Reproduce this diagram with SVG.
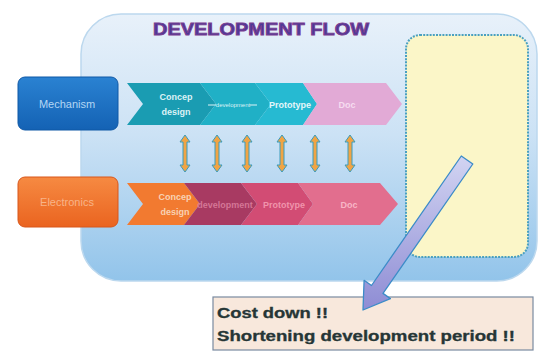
<svg xmlns="http://www.w3.org/2000/svg" width="546" height="351" viewBox="0 0 546 351">
  <defs>
    <linearGradient id="panelGrad" x1="0" y1="0" x2="0" y2="1">
      <stop offset="0" stop-color="#e8f1fa"/>
      <stop offset="0.45" stop-color="#cce2f5"/>
      <stop offset="1" stop-color="#92c4ea"/>
    </linearGradient>
    <linearGradient id="mechGrad" x1="0" y1="0" x2="0" y2="1">
      <stop offset="0" stop-color="#2a82d2"/>
      <stop offset="1" stop-color="#1462b4"/>
    </linearGradient>
    <linearGradient id="elecGrad" x1="0" y1="0" x2="0" y2="1">
      <stop offset="0" stop-color="#f68a42"/>
      <stop offset="1" stop-color="#ea6420"/>
    </linearGradient>
    <linearGradient id="bigArrowGrad" x1="0" y1="0" x2="0" y2="1">
      <stop offset="0" stop-color="#d2d4f2"/>
      <stop offset="1" stop-color="#8e8cd4"/>
    </linearGradient>
    <style>
      .lbl { font-family: "Liberation Sans", Arial, sans-serif; }
      .chev-txt { font-family: "Liberation Sans", Arial, sans-serif; font-weight: bold; font-size: 9px; text-anchor: middle; }
      .dbl { fill: #f0a444; stroke: #3a9cbc; stroke-width: 1; }
    </style>
  </defs>

  <rect width="546" height="351" fill="#ffffff"/>

  <!-- development flow panel -->
  <g id="panel">
    <rect x="81" y="14" width="456" height="267" rx="40" fill="url(#panelGrad)" stroke="#bcd8ee" stroke-width="1.5"/>
    <text x="153" y="35" class="lbl" font-size="17" font-weight="bold" fill="#4a3a9a" stroke="#7c3c8e" stroke-width="0.9" textLength="216" lengthAdjust="spacingAndGlyphs">DEVELOPMENT FLOW</text>
  </g>

  <!-- result area -->
  <g id="result-box">
    <rect x="406" y="35" width="122" height="222" rx="14" fill="#fbf6c8" stroke="#4aa0c0" stroke-width="2" stroke-dasharray="2 1.2"/>
  </g>

  <!-- Mechanism lane -->
  <g id="mechanism">
    <rect x="18" y="77" width="100" height="53" rx="7" fill="url(#mechGrad)" stroke="#0f58a6" stroke-width="1"/>
    <text x="67" y="108" class="lbl" font-size="11" fill="#b4d6f4" text-anchor="middle">Mechanism</text>
  </g>

  <g id="mechanism-flow">
    <polygon points="127,83 200,83 216,104 200,125 127,125 143,104" fill="#1a9cb2"/>
    <polygon points="200,83 255,83 271,104 255,125 200,125 216,104" fill="#20b0c6"/>
    <polygon points="255,83 303,83 317,104 303,125 255,125 271,104" fill="#26bad2"/>
    <polygon points="303,83 386,83 402,104 386,125 303,125 317,104" fill="#e2aad6"/>
    <text x="176" y="100" class="chev-txt" fill="#dcf2f6">Concep</text>
    <text x="176" y="115" class="chev-txt" fill="#dcf2f6">design</text>
    <line x1="208" y1="105" x2="216" y2="105" stroke="#dcf2f6" stroke-width="1"/>
    <text x="233" y="107" class="lbl" font-size="6" fill="#dcf2f6" text-anchor="middle">development</text>
    <line x1="250" y1="105" x2="257" y2="105" stroke="#dcf2f6" stroke-width="1"/>
    <text x="290" y="108" class="chev-txt" fill="#e4f6fa">Prototype</text>
    <text x="347" y="108" class="chev-txt" fill="#f6dcf0">Doc</text>
  </g>

  <!-- Electronics lane -->
  <g id="electronics">
    <rect x="18" y="177" width="100" height="50" rx="7" fill="url(#elecGrad)" stroke="#d8561a" stroke-width="1"/>
    <text x="67" y="206" class="lbl" font-size="11" fill="#f8b488" text-anchor="middle">Electronics</text>
  </g>

  <g id="electronics-flow">
    <polygon points="127,183 184,183 200,204 184,225 127,225 143,204" fill="#f27a30"/>
    <polygon points="184,183 241,183 257,204 241,225 184,225 200,204" fill="#a83a62"/>
    <polygon points="241,183 298,183 313,204 298,225 241,225 257,204" fill="#d24c74"/>
    <polygon points="298,183 380,183 398,204 380,225 298,225 313,204" fill="#e26e8e"/>
    <text x="175" y="200" class="chev-txt" fill="#f8d2b4">Concep</text>
    <text x="175" y="215" class="chev-txt" fill="#f8d2b4">design</text>
    <text x="225" y="208" class="chev-txt" font-size="7" fill="#d47696">development</text>
    <text x="284" y="208" class="chev-txt" fill="#f094ac">Prototype</text>
    <text x="349" y="208" class="chev-txt" fill="#f8b6c6">Doc</text>
  </g>

  <!-- conclusion box -->
  <g id="conclusion">
    <rect x="213" y="297" width="320" height="53" fill="#f8e8dc" stroke="#7a8aa0" stroke-width="1.2"/>
    <text x="217" y="318" class="lbl" font-size="14" font-weight="bold" fill="#263636" stroke="#263636" stroke-width="0.3" textLength="111" lengthAdjust="spacingAndGlyphs">Cost down !!</text>
    <text x="217" y="341" class="lbl" font-size="14" font-weight="bold" fill="#263636" stroke="#263636" stroke-width="0.3" textLength="298" lengthAdjust="spacingAndGlyphs">Shortening development period !!</text>
  </g>

  <!-- connectors -->
  <g id="connectors">
    <g id="sync-arrows">
      <polygon class="dbl" points="185,135 190,142 187,142 187,165 190,165 185,172 180,165 183,165 183,142 180,142"/>
      <polygon class="dbl" points="217,135 222,142 219,142 219,165 222,165 217,172 212,165 215,165 215,142 212,142"/>
      <polygon class="dbl" points="247,135 252,142 249,142 249,165 252,165 247,172 242,165 245,165 245,142 242,142"/>
      <polygon class="dbl" points="282,135 287,142 284,142 284,165 287,165 282,172 277,165 280,165 280,142 277,142"/>
      <polygon class="dbl" points="315,135 320,142 317,142 317,165 320,165 315,172 310,165 313,165 313,142 310,142"/>
      <polygon class="dbl" points="350,135 355,142 352,142 352,165 355,165 350,172 345,165 348,165 348,142 345,142"/>
    </g>
    <polygon id="result-arrow" points="461.3,156 472.8,164 383,293.4 390.4,298.6 363,310 364.1,280.3 371.5,285.5" fill="url(#bigArrowGrad)" stroke="#3c8cc8" stroke-width="1.3" stroke-linejoin="round"/>
  </g>
</svg>
